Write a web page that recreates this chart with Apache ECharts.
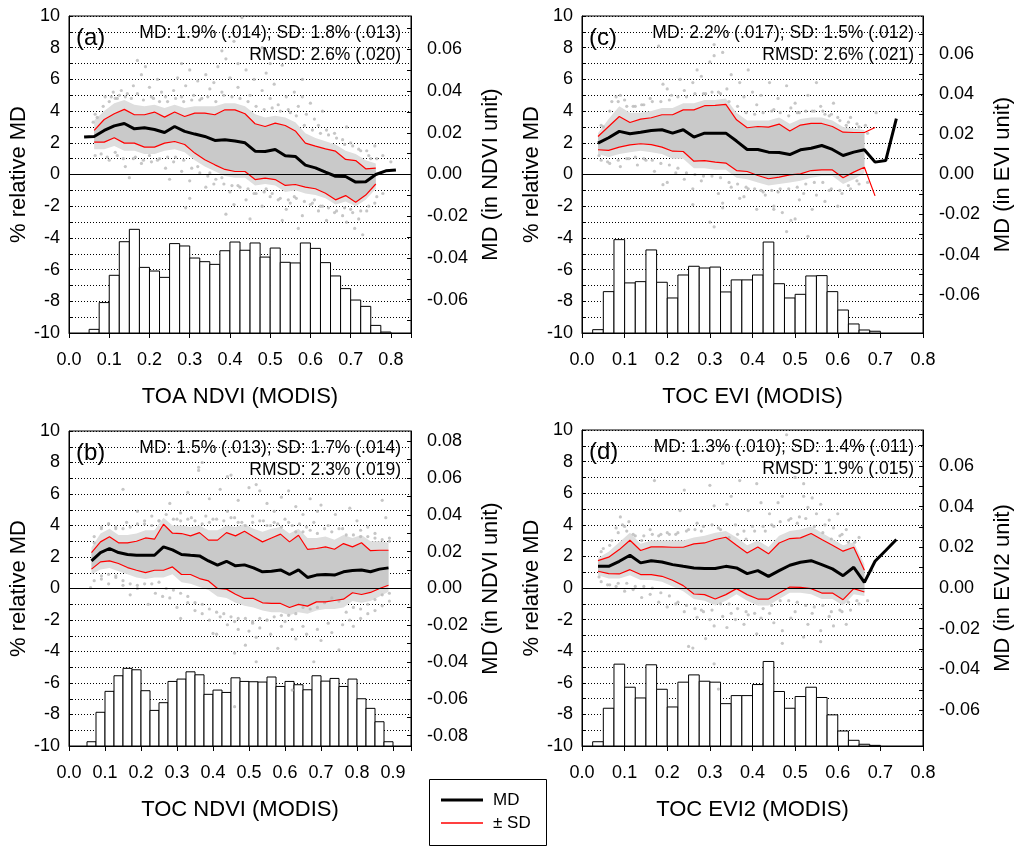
<!DOCTYPE html>
<html><head><meta charset="utf-8">
<script src="https://cdn.jsdelivr.net/npm/echarts@6/dist/echarts.min.js"></script>
<style>html,body{margin:0;padding:0;background:#fff}#c{width:1016px;height:846px}</style>
</head><body><div id="c"></div>
<script>
// ---- categories (bin centres / edges, VI units) ----
const binMid = [0.0375,0.0625,0.0875,0.1125,0.1375,0.1625,0.1875,0.2125,0.2375,0.2625,0.2875,0.3125,0.3375,0.3625,0.3875,0.4125,0.4375,0.4625,0.4875,0.5125,0.5375,0.5625,0.5875,0.6125,0.6375,0.6625,0.6875,0.7125,0.7375,0.7625,0.7875,0.8125,0.8375,0.8625,0.8875];
const binEdges = [0.025,0.05,0.075,0.1,0.125,0.15,0.175,0.2,0.225,0.25,0.275,0.3,0.325,0.35,0.375,0.4,0.425,0.45,0.475,0.5,0.525,0.55,0.575,0.6,0.625,0.65,0.675,0.7,0.725,0.75,0.775,0.8,0.825,0.85,0.875,0.9];

// ---- tick labels ----
const rightLabels6 = [-0.06,-0.04,-0.02,0,0.02,0.04,0.06];
const rightLabels8 = [-0.08,-0.06,-0.04,-0.02,0,0.02,0.04,0.06,0.08];
const rightTicks7 = [-0.07,-0.06,-0.05,-0.04,-0.03,-0.02,-0.01,0,0.01,0.02,0.03,0.04,0.05,0.06,0.07];
const rightTicks8 = [-0.08,-0.07,-0.06,-0.05,-0.04,-0.03,-0.02,-0.01,0,0.01,0.02,0.03,0.04,0.05,0.06,0.07,0.08];
const legendNames = ['MD', '± SD'];

// ---- panel (a) TOA NDVI ----
const mdA = [2.36,2.40,2.78,3.07,3.22,2.88,2.95,2.84,2.65,3.03,2.72,2.55,2.40,2.15,2.19,2.11,2.00,1.47,1.45,1.58,1.18,1.14,0.59,0.42,0.15,-0.11,-0.13,-0.48,-0.46,0.00,0.23,0.29];
const sdHiA = [2.78,3.47,3.83,4.11,3.77,3.77,3.94,3.62,3.94,3.66,3.87,3.87,3.77,4.08,4.08,3.83,3.20,3.03,3.24,3.09,2.75,1.98,1.79,1.62,1.47,0.95,0.88,0.36,0.40];
const sdLoA = [2.04,2.04,2.32,1.98,1.98,1.73,1.73,1.98,2.08,1.89,1.35,0.93,0.61,0.32,0.19,0.19,-0.32,-0.23,-0.32,-0.69,-0.63,-0.80,-0.90,-1.18,-1.60,-1.33,-1.75,-1.30,-0.60];
const cloudHiA = [3.4,4.0,4.5,4.7,4.4,4.3,4.4,4.2,4.4,4.2,4.3,4.3,4.3,4.5,4.5,4.3,3.8,3.6,3.7,3.6,3.3,2.6,2.3,2.1,1.9,1.5,1.3,0.9,0.7];
const cloudLoA = [1.6,1.6,1.8,1.5,1.5,1.3,1.3,1.5,1.6,1.4,0.9,0.5,0.2,-0.1,-0.2,-0.2,-0.7,-0.6,-0.7,-1.1,-1.0,-1.2,-1.3,-1.5,-1.9,-1.7,-2.0,-1.6,-0.9];
const histA = [-9.77,-8.08,-6.36,-4.24,-3.46,-5.86,-6.09,-6.49,-4.36,-4.51,-5.27,-5.50,-5.67,-4.81,-4.26,-4.78,-4.32,-5.21,-4.64,-5.54,-5.58,-4.32,-4.66,-5.56,-6.40,-7.20,-7.92,-8.32,-9.52,-9.94];
const scatterA = [[0.06,3.3],[0.07,3.6],[0.09,4.9],[0.10,4.6],[0.11,5.2],[0.12,4.8],[0.13,5.3],[0.14,4.9],[0.16,5.6],[0.17,5.1],[0.17,7.2],[0.18,6.3],[0.19,6.8],[0.20,5.5],[0.21,4.8],[0.22,6.0],[0.23,5.2],[0.24,4.9],[0.26,5.3],[0.27,6.1],[0.28,4.9],[0.28,7.0],[0.29,5.6],[0.30,6.6],[0.31,5.0],[0.32,5.9],[0.33,4.8],[0.34,6.3],[0.35,5.4],[0.36,5.8],[0.37,6.8],[0.38,5.2],[0.38,7.8],[0.39,7.3],[0.40,6.1],[0.41,8.4],[0.42,5.5],[0.42,7.0],[0.43,9.9],[0.44,6.6],[0.45,5.0],[0.46,6.0],[0.47,7.5],[0.48,5.3],[0.48,8.0],[0.49,6.4],[0.50,4.8],[0.50,7.0],[0.51,5.7],[0.52,4.4],[0.53,6.9],[0.54,4.9],[0.55,3.9],[0.56,5.2],[0.57,4.3],[0.58,4.9],[0.58,6.0],[0.59,3.8],[0.60,4.5],[0.61,3.5],[0.62,3.1],[0.63,4.0],[0.64,2.8],[0.66,2.6],[0.68,2.2],[0.69,3.0],[0.70,2.0],[0.72,1.6],[0.74,1.5],[0.75,1.0],[0.76,1.8],[0.78,1.2],[0.80,0.8],
[0.08,1.3],[0.10,0.9],[0.12,1.2],[0.14,0.5],[0.15,-0.2],[0.16,1.0],[0.18,0.7],[0.20,1.2],[0.22,0.9],[0.24,0.4],[0.25,-0.3],[0.26,0.8],[0.28,0.2],[0.29,-2.1],[0.30,-0.4],[0.30,-1.5],[0.32,0.5],[0.34,-0.8],[0.35,0.1],[0.36,-0.6],[0.38,-0.2],[0.39,-2.5],[0.40,-1.1],[0.41,-1.9],[0.42,-0.7],[0.44,-1.6],[0.45,-2.8],[0.46,-1.2],[0.48,-2.0],[0.49,-0.9],[0.50,-1.4],[0.52,-1.6],[0.53,-2.9],[0.54,-2.2],[0.55,-1.8],[0.56,-1.4],[0.57,-3.4],[0.58,-2.6],[0.60,-1.9],[0.61,-1.6],[0.62,-2.3],[0.63,-2.0],[0.64,-2.9],[0.66,-2.4],[0.68,-2.6],[0.69,-3.0],[0.70,-2.2],[0.71,-3.4],[0.72,-2.8],[0.73,-3.8],[0.74,-2.3],[0.76,-1.8],[0.78,-1.2],
[0.065,3.8],[0.085,4.3],[0.105,4.9],[0.115,4.8],[0.125,5.0],[0.145,5.1],[0.155,4.8],[0.185,4.7],[0.205,4.9],[0.225,4.6],[0.245,4.6],[0.265,4.8],[0.285,4.6],[0.305,4.7],[0.325,4.7],[0.345,4.9],[0.365,4.6],[0.385,5.0],[0.405,4.9],[0.425,4.8],[0.445,4.6],[0.465,4.3],[0.485,4.1],[0.505,4.2],[0.525,4.0],[0.545,4.1],[0.565,3.7],[0.585,3.1],[0.605,2.8],[0.625,2.6],[0.645,2.5],[0.665,2.3],[0.685,1.9],[0.705,1.8],[0.725,1.5],[0.745,1.2],[0.765,1.0],
[0.065,1.2],[0.095,1.1],[0.115,1.4],[0.135,1.0],[0.165,1.1],[0.185,0.9],[0.205,0.8],[0.225,1.0],[0.245,1.1],[0.265,1.1],[0.285,0.9],[0.305,0.4],[0.325,0.1],[0.345,-0.1],[0.365,-0.3],[0.385,-0.6],[0.405,-0.7],[0.425,-0.8],[0.445,-0.9],[0.465,-1.2],[0.485,-1.1],[0.505,-1.2],[0.525,-1.5],[0.545,-1.6],[0.565,-1.5],[0.585,-1.7],[0.605,-1.8],[0.625,-2.0],[0.645,-2.1],[0.665,-2.3],[0.685,-2.1],[0.705,-2.4],[0.725,-2.3],[0.745,-2.0],[0.765,-1.4]];

// ---- panel (c) TOC EVI ----
const mdC = [1.98,2.32,2.72,2.57,2.67,2.78,2.82,2.61,2.82,2.36,2.61,2.61,2.61,2.11,1.58,1.58,1.41,1.39,1.26,1.56,1.66,1.83,1.58,1.20,1.41,1.56,0.78,0.88,3.52];
const sdHiC = [2.40,3.03,3.66,3.28,3.49,3.58,3.77,3.77,4.08,4.08,4.34,4.36,4.42,3.45,2.95,3.03,2.99,3.18,2.74,3.12,3.22,3.22,3.03,2.67,2.65,2.65,2.97];
const sdLoC = [1.56,1.52,1.73,1.87,1.94,1.89,1.73,1.47,1.45,0.84,0.88,0.78,0.72,0.25,0.19,-0.06,-0.27,-0.17,-0.02,0.04,0.25,0.29,0.29,-0.21,0.15,0.46,-1.35];
const cloudHiC = [2.6,3.5,4.3,3.9,3.9,4.0,4.2,4.2,4.5,4.5,4.7,4.7,4.8,3.9,3.4,3.4,3.4,3.6,3.2,3.5,3.6,3.6,3.4,3.0,2.9,2.8];
const cloudLoC = [1.3,1.1,1.3,1.4,1.5,1.4,1.3,1.0,1.0,0.4,0.4,0.3,0.3,-0.2,-0.3,-0.5,-0.7,-0.6,-0.5,-0.4,-0.2,-0.1,-0.1,-0.6,-0.3,0.1];
const histC = [-9.79,-7.39,-4.11,-6.84,-6.76,-4.76,-6.80,-7.79,-6.34,-5.79,-5.90,-5.84,-7.41,-6.65,-6.65,-6.34,-4.26,-6.89,-7.79,-7.56,-6.40,-6.38,-7.39,-8.55,-9.43,-9.81,-9.89];
const scatterC = [[0.05,3.0],[0.07,4.6],[0.08,4.9],[0.09,5.0],[0.10,4.7],[0.12,4.3],[0.14,4.4],[0.16,4.8],[0.18,8.1],[0.19,5.7],[0.20,5.4],[0.21,5.0],[0.23,6.0],[0.24,5.3],[0.26,5.8],[0.27,6.6],[0.28,6.2],[0.29,5.1],[0.30,7.1],[0.31,7.5],[0.31,8.2],[0.32,5.2],[0.33,7.7],[0.34,5.4],[0.35,6.3],[0.37,5.8],[0.38,4.9],[0.39,6.6],[0.40,5.2],[0.41,4.4],[0.42,5.0],[0.44,5.8],[0.45,4.1],[0.46,4.8],[0.48,5.6],[0.49,4.2],[0.50,4.5],[0.51,3.9],[0.53,5.0],[0.54,4.0],[0.55,5.8],[0.56,4.3],[0.57,3.8],[0.58,3.7],[0.59,4.5],[0.60,3.6],[0.62,3.1],[0.63,3.6],[0.65,3.0],[0.67,2.6],[0.69,3.9],
[0.04,1.2],[0.06,0.8],[0.09,0.5],[0.11,1.0],[0.13,0.6],[0.15,0.9],[0.17,0.2],[0.19,-0.64],[0.20,-0.5],[0.22,0.1],[0.24,-0.3],[0.26,-0.9],[0.26,-1.9],[0.28,-0.4],[0.30,-3.0],[0.31,-3.3],[0.32,-1.2],[0.33,-2.1],[0.33,-1.8],[0.35,-0.8],[0.37,-1.5],[0.38,-1.4],[0.39,-0.9],[0.41,-2.2],[0.42,-1.0],[0.43,-1.3],[0.45,-2.0],[0.45,-2.2],[0.46,-1.1],[0.47,-2.4],[0.48,-3.6],[0.49,-2.9],[0.50,-2.8],[0.51,-1.6],[0.52,-1.2],[0.53,-3.9],[0.54,-2.2],[0.55,-1.3],[0.57,-1.7],[0.58,-1.0],[0.60,-2.0],[0.61,-1.2],[0.63,-0.9],[0.65,-0.6],[0.67,-0.5],
[0.045,3.1],[0.065,4.0],[0.085,4.6],[0.105,4.3],[0.125,4.3],[0.145,4.4],[0.165,4.6],[0.185,4.6],[0.205,4.7],[0.225,4.9],[0.245,4.9],[0.265,5.1],[0.285,5.1],[0.305,5.2],[0.325,5.1],[0.345,4.6],[0.365,4.3],[0.385,3.9],[0.405,3.8],[0.425,3.9],[0.445,4.0],[0.465,3.9],[0.485,3.7],[0.505,3.9],[0.525,4.0],[0.545,4.0],[0.565,4.0],[0.585,3.8],[0.605,3.4],[0.625,3.3],[0.645,3.2],[0.665,3.1],
[0.045,0.9],[0.065,0.7],[0.085,0.9],[0.105,1.0],[0.125,1.1],[0.145,1.0],[0.165,0.9],[0.185,0.7],[0.205,0.6],[0.225,0.4],[0.245,0.1],[0.265,0.0],[0.285,-0.1],[0.305,-0.1],[0.325,-0.2],[0.345,-0.5],[0.365,-0.6],[0.385,-0.8],[0.405,-0.9],[0.425,-1.1],[0.445,-1.0],[0.465,-0.9],[0.485,-0.9],[0.505,-0.8],[0.525,-0.6],[0.545,-0.5],[0.565,-0.5],[0.585,-0.9],[0.605,-1.0],[0.625,-0.7],[0.645,-0.4]];

// ---- panel (b) TOC NDVI ----
const mdB = [1.75,2.28,2.54,2.28,2.16,2.11,2.11,2.11,2.64,2.45,2.16,2.11,2.07,1.75,1.48,1.73,1.44,1.50,1.31,1.06,1.10,1.18,0.89,1.18,0.70,0.85,0.89,0.85,1.06,1.14,1.18,1.06,1.23,1.31];
const sdHiB = [2.28,2.96,3.28,2.90,2.90,3.00,3.21,3.13,4.08,3.51,3.49,3.34,3.55,3.07,3.07,3.55,3.34,3.64,3.28,2.96,3.21,3.45,2.96,3.38,2.49,2.54,2.64,2.49,2.85,2.64,2.90,2.40,2.43,2.43];
const sdLoB = [1.23,1.69,1.75,1.59,1.33,1.16,1.01,1.16,1.16,1.37,0.89,0.89,0.63,0.48,0.00,-0.04,-0.36,-0.63,-0.63,-0.91,-0.95,-0.95,-1.21,-1.01,-1.12,-0.85,-0.85,-0.76,-0.68,-0.27,-0.38,-0.25,0.00,0.21];
const cloudHiB = [2.6,3.5,3.8,3.4,3.4,3.5,3.7,3.7,4.5,4.0,4.0,3.9,4.0,3.7,3.7,4.0,3.9,4.1,3.8,3.6,3.8,3.9,3.5,3.8,3.2,3.2,3.3,3.1,3.4,3.2,3.4,3.0,3.0,2.9];
const cloudLoB = [0.9,1.2,1.3,1.1,0.9,0.7,0.6,0.7,0.7,0.9,0.4,0.3,0.1,-0.1,-0.5,-0.6,-0.9,-1.1,-1.2,-1.4,-1.5,-1.5,-1.7,-1.5,-1.6,-1.4,-1.3,-1.3,-1.2,-0.8,-0.9,-0.8,-0.5,-0.2];
const histB = [-9.73,-7.86,-6.53,-5.54,-5.07,-5.16,-6.49,-7.74,-7.25,-5.90,-5.75,-5.29,-5.48,-6.72,-6.45,-6.60,-5.67,-5.90,-5.92,-5.94,-5.62,-6.22,-5.90,-6.11,-6.43,-5.54,-5.88,-5.71,-6.22,-5.75,-7.00,-7.61,-8.46,-9.73];
const scatterB = [[0.07,3.3],[0.09,3.9],[0.11,4.1],[0.13,3.9],[0.15,6.3],[0.16,4.2],[0.19,4.9],[0.21,4.3],[0.23,4.6],[0.25,4.3],[0.28,5.4],[0.30,4.4],[0.31,4.8],[0.33,6.1],[0.34,4.5],[0.36,7.5],[0.36,7.7],[0.37,8.0],[0.38,4.6],[0.39,5.7],[0.40,4.4],[0.42,6.3],[0.44,4.9],[0.44,7.1],[0.45,7.2],[0.46,4.5],[0.47,5.6],[0.48,4.2],[0.50,6.4],[0.51,4.6],[0.52,6.6],[0.53,6.2],[0.54,4.3],[0.55,5.4],[0.56,4.0],[0.57,4.9],[0.58,4.1],[0.59,5.8],[0.60,4.4],[0.61,6.2],[0.62,4.0],[0.63,5.2],[0.64,4.1],[0.65,4.7],[0.66,3.9],[0.67,5.7],[0.68,4.2],[0.69,4.9],[0.70,5.3],[0.72,4.0],[0.74,4.7],[0.76,3.8],[0.78,5.1],[0.80,4.3],[0.81,3.7],[0.83,3.9],[0.85,3.5],[0.87,5.6],[0.88,4.5],[0.89,3.2],
[0.06,0.05],[0.09,0.6],[0.11,0.3],[0.13,0.7],[0.15,0.2],[0.17,-0.4],[0.19,0.0],[0.22,-1.0],[0.24,-0.3],[0.26,-0.5],[0.28,-0.6],[0.30,-1.2],[0.31,-1.9],[0.33,-0.9],[0.35,-1.4],[0.37,-1.6],[0.39,-2.0],[0.40,-2.85],[0.41,-2.9],[0.42,-1.8],[0.44,-2.3],[0.46,-2.1],[0.46,-4.1],[0.47,-2.6],[0.49,-3.6],[0.50,-2.7],[0.51,-2.2],[0.52,-3.1],[0.52,-4.65],[0.53,-2.5],[0.55,-2.0],[0.56,-2.9],[0.58,-3.8],[0.59,-2.4],[0.60,-2.1],[0.62,-2.6],[0.63,-3.2],[0.65,-2.4],[0.66,-2.9],[0.68,-4.65],[0.69,-2.6],[0.70,-3.3],[0.72,-2.2],[0.73,-2.8],[0.75,-3.9],[0.76,-2.3],[0.78,-2.0],[0.79,-2.4],[0.81,-1.9],[0.83,-1.6],[0.85,-1.4],[0.87,-1.1],[0.89,-0.8],[0.62,-6.45],[0.46,-7.5],
[0.07,2.9],[0.09,3.8],[0.11,4.1],[0.13,3.8],[0.15,3.8],[0.17,3.9],[0.19,4.1],[0.21,4.1],[0.23,4.0],[0.25,4.3],[0.27,4.7],[0.29,4.4],[0.31,4.3],[0.33,4.4],[0.35,4.3],[0.37,4.1],[0.39,4.2],[0.41,4.4],[0.43,4.3],[0.45,4.5],[0.47,4.2],[0.49,4.0],[0.51,4.2],[0.53,4.3],[0.55,4.0],[0.57,4.2],[0.59,3.9],[0.61,4.2],[0.63,3.6],[0.65,3.6],[0.67,3.7],[0.69,3.5],[0.71,3.8],[0.73,3.6],[0.75,3.8],[0.77,3.4],[0.79,3.4],[0.81,3.3],[0.83,3.3],[0.85,3.2],[0.87,3.1],[0.89,3.0],
[0.07,0.5],[0.09,0.8],[0.11,0.9],[0.13,0.8],[0.15,0.5],[0.17,0.3],[0.19,0.2],[0.21,0.3],[0.23,0.3],[0.25,0.4],[0.27,0.0],[0.29,-0.1],[0.31,-0.3],[0.33,-0.5],[0.35,-0.9],[0.37,-1.0],[0.39,-1.3],[0.41,-1.5],[0.43,-1.6],[0.45,-1.8],[0.47,-1.9],[0.49,-1.9],[0.51,-2.1],[0.53,-1.9],[0.55,-2.0],[0.57,-1.8],[0.59,-1.7],[0.61,-1.7],[0.63,-1.6],[0.65,-1.2],[0.67,-1.3],[0.69,-1.2],[0.71,-0.9],[0.73,-0.6],[0.75,-0.8],[0.77,-1.5],[0.79,-1.2],[0.81,-1.3],[0.83,-1.0],[0.85,-0.7],[0.87,-0.4],[0.89,-0.3]];

// ---- panel (d) TOC EVI2 ----
const mdD = [1.37,1.37,1.69,2.07,1.59,1.73,1.65,1.48,1.37,1.27,1.23,1.23,1.37,1.27,0.91,1.10,0.74,1.10,1.44,1.63,1.73,1.48,1.21,0.78,1.31,0.36,1.69,2.37,3.07];
const sdHiD = [1.73,1.95,2.43,3.02,2.37,2.60,2.60,2.58,2.58,2.79,2.85,3.07,3.21,2.71,2.22,2.60,2.16,2.85,3.13,3.17,3.45,3.07,2.71,2.33,2.58,1.12];
const sdLoD = [1.06,0.91,0.89,1.16,0.85,0.85,0.74,0.49,0.15,-0.38,-0.42,-0.70,-0.42,-0.04,-0.42,-0.70,-0.70,-0.32,0.06,0.04,-0.04,-0.32,-0.32,-0.74,-0.04,-0.25];
const cloudHiD = [1.9,2.3,2.9,3.5,2.8,3.0,3.0,3.0,3.0,3.2,3.3,3.5,3.6,3.2,2.7,3.0,2.6,3.3,3.6,3.7,3.9,3.5,3.1,2.7,2.9,1.5];
const cloudLoD = [0.8,0.6,0.6,0.8,0.5,0.5,0.4,0.1,-0.2,-0.7,-0.8,-1.1,-0.8,-0.4,-0.8,-1.1,-1.1,-0.7,-0.3,-0.3,-0.4,-0.7,-0.7,-1.1,-0.4,-0.5];
const histD = [-9.73,-7.61,-4.82,-6.28,-6.96,-4.86,-6.41,-7.53,-5.96,-5.50,-5.90,-5.96,-7.32,-6.81,-6.81,-6.11,-4.65,-6.55,-7.61,-6.87,-6.28,-6.93,-8.03,-9.05,-9.64,-9.89,-9.96];
const scatterD = [[0.05,2.5],[0.07,3.0],[0.08,3.8],[0.09,4.5],[0.10,3.9],[0.11,4.2],[0.12,3.4],[0.14,3.0],[0.16,3.7],[0.17,6.8],[0.18,3.3],[0.20,3.5],[0.22,3.4],[0.23,4.9],[0.24,6.2],[0.25,3.7],[0.27,4.1],[0.28,3.6],[0.30,6.5],[0.31,5.2],[0.32,3.8],[0.33,7.9],[0.34,5.3],[0.35,5.8],[0.36,4.0],[0.37,6.8],[0.38,3.6],[0.39,4.9],[0.40,3.9],[0.41,6.6],[0.42,5.4],[0.43,3.6],[0.44,4.7],[0.45,3.9],[0.46,5.4],[0.47,5.8],[0.48,9.7],[0.49,4.4],[0.50,7.0],[0.51,4.5],[0.52,5.8],[0.52,6.6],[0.53,5.1],[0.54,5.7],[0.55,4.7],[0.56,5.3],[0.57,4.0],[0.58,4.3],[0.59,3.8],[0.60,4.7],[0.61,3.4],[0.62,3.7],[0.64,2.9],[0.65,3.2],[0.68,1.1],
[0.04,0.7],[0.06,0.2],[0.08,0.1],[0.10,-0.2],[0.12,-0.1],[0.14,-0.6],[0.16,-0.4],[0.18,-0.9],[0.20,-1.2],[0.22,-1.0],[0.24,-1.5],[0.25,-3.7],[0.26,-3.8],[0.27,-1.85],[0.28,-1.4],[0.29,-3.2],[0.30,-2.0],[0.31,-2.4],[0.31,-4.8],[0.32,-6.4],[0.33,-1.8],[0.34,-2.5],[0.35,-1.6],[0.36,-2.0],[0.38,-2.3],[0.39,-1.7],[0.41,-2.9],[0.42,-1.9],[0.44,-1.6],[0.45,-2.2],[0.47,-2.7],[0.47,-3.5],[0.49,-1.9],[0.50,-1.5],[0.52,-3.1],[0.53,-2.3],[0.54,-1.6],[0.56,-2.7],[0.56,-3.4],[0.58,-1.8],[0.59,-2.4],[0.61,-1.5],[0.62,-2.3],[0.63,-1.4],[0.65,-1.0],[0.67,-0.8],
[0.045,2.3],[0.065,2.7],[0.085,3.5],[0.095,4.0],[0.105,3.6],[0.125,3.3],[0.145,3.3],[0.165,3.4],[0.185,3.4],[0.205,3.4],[0.225,3.5],[0.245,3.6],[0.265,3.7],[0.285,3.9],[0.305,4.0],[0.325,3.7],[0.345,3.2],[0.365,3.4],[0.385,3.1],[0.405,3.6],[0.425,3.9],[0.445,4.0],[0.465,4.2],[0.485,4.3],[0.505,4.1],[0.525,4.4],[0.545,3.9],[0.565,3.5],[0.585,3.1],[0.605,3.3],[0.625,2.9],
[0.045,0.4],[0.065,0.2],[0.085,0.3],[0.105,0.3],[0.125,0.1],[0.145,0.1],[0.165,0.0],[0.185,-0.3],[0.205,-0.5],[0.225,-0.9],[0.245,-1.1],[0.265,-1.3],[0.285,-1.5],[0.305,-1.4],[0.325,-1.0],[0.345,-1.0],[0.365,-1.3],[0.385,-1.5],[0.405,-1.6],[0.425,-1.3],[0.445,-1.1],[0.465,-0.8],[0.485,-0.8],[0.505,-0.9],[0.525,-1.1],[0.545,-1.2],[0.565,-1.1],[0.585,-1.5],[0.605,-1.4],[0.625,-0.9],[0.645,-0.8]];

// ---- layout / panel table built from the arrays ----
const FONT = 'Liberation Sans, Arial, Helvetica, sans-serif';
const panels = [
  {grid:{left:69,top:16,width:342,height:317}, xMax:0.85, rMax:0.076, rLabels:rightLabels6, rTicks:rightTicks7,
   xName:'TOA NDVI (MODIS)', rName:'MD (in NDVI unit)', letter:'(a)', s1:'MD: 1.9% (.014); SD: 1.8% (.013)', s2:'RMSD: 2.6% (.020)',
   md:mdA, mdStart:0, sdHi:sdHiA, sdLo:sdLoA, sdStart:1, cHi:cloudHiA, cLo:cloudLoA, hist:histA, histStart:1, pts:scatterA},
  {grid:{left:582,top:16,width:341,height:317}, xMax:0.8, rMax:0.0792, rLabels:rightLabels6, rTicks:rightTicks7,
   xName:'TOC EVI (MODIS)', rName:'MD (in EVI unit)', letter:'(c)', s1:'MD: 2.2% (.017); SD: 1.5% (.012)', s2:'RMSD: 2.6% (.021)',
   md:mdC, mdStart:0, sdHi:sdHiC, sdLo:sdLoC, sdStart:0, cHi:cloudHiC, cLo:cloudLoC, hist:histC, histStart:0, pts:scatterC},
  {grid:{left:69,top:431,width:342,height:315}, xMax:0.95, rMax:0.0856, rLabels:rightLabels8, rTicks:rightTicks8,
   xName:'TOC NDVI (MODIS)', rName:'MD (in NDVI unit)', letter:'(b)', s1:'MD: 1.5% (.013); SD: 1.7% (.014)', s2:'RMSD: 2.3% (.019)',
   md:mdB, mdStart:1, sdHi:sdHiB, sdLo:sdLoB, sdStart:1, cHi:cloudHiB, cLo:cloudLoB, hist:histB, histStart:1, pts:scatterB},
  {grid:{left:582,top:430,width:341,height:316}, xMax:0.8, rMax:0.0776, rLabels:rightLabels6, rTicks:rightTicks7,
   xName:'TOC EVI2 (MODIS)', rName:'MD (in EVI2 unit)', letter:'(d)', s1:'MD: 1.3% (.010); SD: 1.4% (.011)', s2:'RMSD: 1.9% (.015)',
   md:mdD, mdStart:0, sdHi:sdHiD, sdLo:sdLoD, sdStart:0, cHi:cloudHiD, cLo:cloudLoD, hist:histD, histStart:0, pts:scatterD}
];

const grids = [], xAxes = [], yAxes = [], series = [], graphics = [];
const txt = (s) => Object.assign({fontFamily:FONT, color:'#000'}, s);

function bandSeries(i, hi, lo, fill, z) {
  const poly = hi.concat(lo.slice().reverse());
  return {type:'custom', xAxisIndex:i, yAxisIndex:2*i, z:z, silent:true, data:[poly[0]],
    renderItem:(params, api) => ({type:'polygon', shape:{points: poly.map(q => api.coord(q))}, style:{fill:fill}})};
}
function textEl(x, y, s, size, align) {
  return {type:'text', x:x, y:y, z:10, silent:true,
    style:{text:s, font:size + 'px ' + FONT, fill:'#000', textAlign:align, align:align, textVerticalAlign:'middle', verticalAlign:'middle'}};
}

panels.forEach((p, i) => {
  grids.push(Object.assign({show:true, borderColor:'#000', borderWidth:1, backgroundColor:'transparent'}, p.grid));
  xAxes.push({type:'value', gridIndex:i, min:0, max:p.xMax, interval:0.1,
    name:p.xName, nameLocation:'middle', nameGap:53, nameTextStyle:txt({fontSize:22}),
    axisLine:{onZero:false, lineStyle:{color:'#000', width:1}},
    axisTick:{show:true, length:5, lineStyle:{color:'#000'}},
    axisLabel:txt({fontSize:18, margin:18, formatter:v => (Math.abs(v*10 - Math.round(v*10)) < 1e-6 ? v.toFixed(1) : '')}),
    splitLine:{show:false}});
  yAxes.push({type:'value', gridIndex:i, position:'left', min:-10, max:10, interval:1,
    name:'% relative MD', nameLocation:'middle', nameGap:36, nameTextStyle:txt({fontSize:22}),
    axisLine:{show:true, lineStyle:{color:'#000', width:1}},
    axisTick:{show:true, inside:true, length:3, lineStyle:{color:'#000'}},
    axisLabel:txt({fontSize:18, margin:9, formatter:v => (Math.round(v) % 2 === 0 ? String(Math.round(v)) : '')}),
    splitLine:{show:true, lineStyle:{color:'#000', width:1, type:[1,2]}}});
  yAxes.push({type:'value', gridIndex:i, position:'right', min:-p.rMax, max:p.rMax,
    name:p.rName, nameLocation:'middle', nameGap:69, nameTextStyle:txt({fontSize:22}),
    axisLine:{show:true, lineStyle:{color:'#000', width:1}},
    axisTick:{show:true, inside:true, length:4, customValues:p.rTicks, lineStyle:{color:'#000'}},
    axisLabel:txt({fontSize:18, margin:16, customValues:p.rLabels, formatter:v => v.toFixed(2)}),
    splitLine:{show:false}});

  // histogram
  series.push({type:'custom', xAxisIndex:i, yAxisIndex:2*i, z:1, silent:true,
    data:p.hist.map((t, j) => [binEdges[p.histStart+j], binEdges[p.histStart+j+1], t]),
    encode:{x:[0,1], y:2},
    renderItem:(params, api) => {
      const a = api.coord([api.value(0), api.value(2)]);
      const b = api.coord([api.value(1), -10]);
      return {type:'rect', shape:{x:a[0], y:a[1], width:b[0]-a[0], height:b[1]-a[1]},
              style:{fill:'#fff', stroke:'#000', lineWidth:1}};
    }});

  // dense scatter core (outer envelope + ±SD core)
  const n = p.cHi.length;
  const cHi = p.cHi.map((v, j) => [binMid[p.sdStart+j], v]);
  const cLo = p.cLo.map((v, j) => [binMid[p.sdStart+j], v]);
  const sHi = p.sdHi.map((v, j) => [binMid[p.sdStart+j], v]);
  const sLo = p.sdLo.map((v, j) => [binMid[p.sdStart+j], v]);
  series.push(bandSeries(i, cHi, cLo, '#dedede', 2));
  series.push(bandSeries(i, sHi.slice(0, n), sLo.slice(0, n), '#c9c9c9', 2));

  // scattered points
  series.push({type:'scatter', xAxisIndex:i, yAxisIndex:2*i, z:3, silent:true, symbolSize:3.2,
    itemStyle:{color:'#b8b8b8'}, data:p.pts});

  // ±SD lines
  [sHi, sLo].forEach(d => series.push({type:'line', name:legendNames[1], xAxisIndex:i, yAxisIndex:2*i, z:4,
    symbol:'none', silent:true, data:d, lineStyle:{color:'#ff0000', width:1.2}, itemStyle:{color:'#ff0000'}}));

  // MD line + zero line
  series.push({type:'line', name:legendNames[0], xAxisIndex:i, yAxisIndex:2*i, z:5, symbol:'none', silent:true,
    data:p.md.map((v, j) => [binMid[p.mdStart+j], v]),
    lineStyle:{color:'#000', width:3}, itemStyle:{color:'#000'},
    markLine:{silent:true, symbol:'none', label:{show:false}, lineStyle:{color:'#000', type:'solid', width:1}, data:[{yAxis:0}]}});

  const L = p.grid.left, T = p.grid.top;
  graphics.push(textEl(L+7, T+22, p.letter, 24, 'left'));
  graphics.push(textEl(L+332, T+17.5, p.s1, 17.5, 'right'));
  graphics.push(textEl(L+332, T+39.5, p.s2, 17.5, 'right'));
});

// legend box (drawn as graphic)
graphics.push({type:'rect', z:10, silent:true, shape:{x:429.5, y:779.5, width:117, height:66},
  style:{fill:'#fff', stroke:'#000', lineWidth:1}});
graphics.push({type:'line', z:11, silent:true, shape:{x1:441, y1:800, x2:483, y2:800}, style:{stroke:'#000', lineWidth:3}});
graphics.push({type:'line', z:11, silent:true, shape:{x1:441, y1:823, x2:483, y2:823}, style:{stroke:'#ff0000', lineWidth:1.5}});
graphics.push(textEl(493, 800, legendNames[0], 17, 'left'));
graphics.push(textEl(493, 823, legendNames[1], 17, 'left'));

const chart = echarts.init(document.getElementById('c'), null, {renderer:'canvas'});
chart.setOption({
  animation:false,
  backgroundColor:'#fff',
  grid:grids, xAxis:xAxes, yAxis:yAxes, series:series, graphic:graphics
});
</script>
</body></html>
